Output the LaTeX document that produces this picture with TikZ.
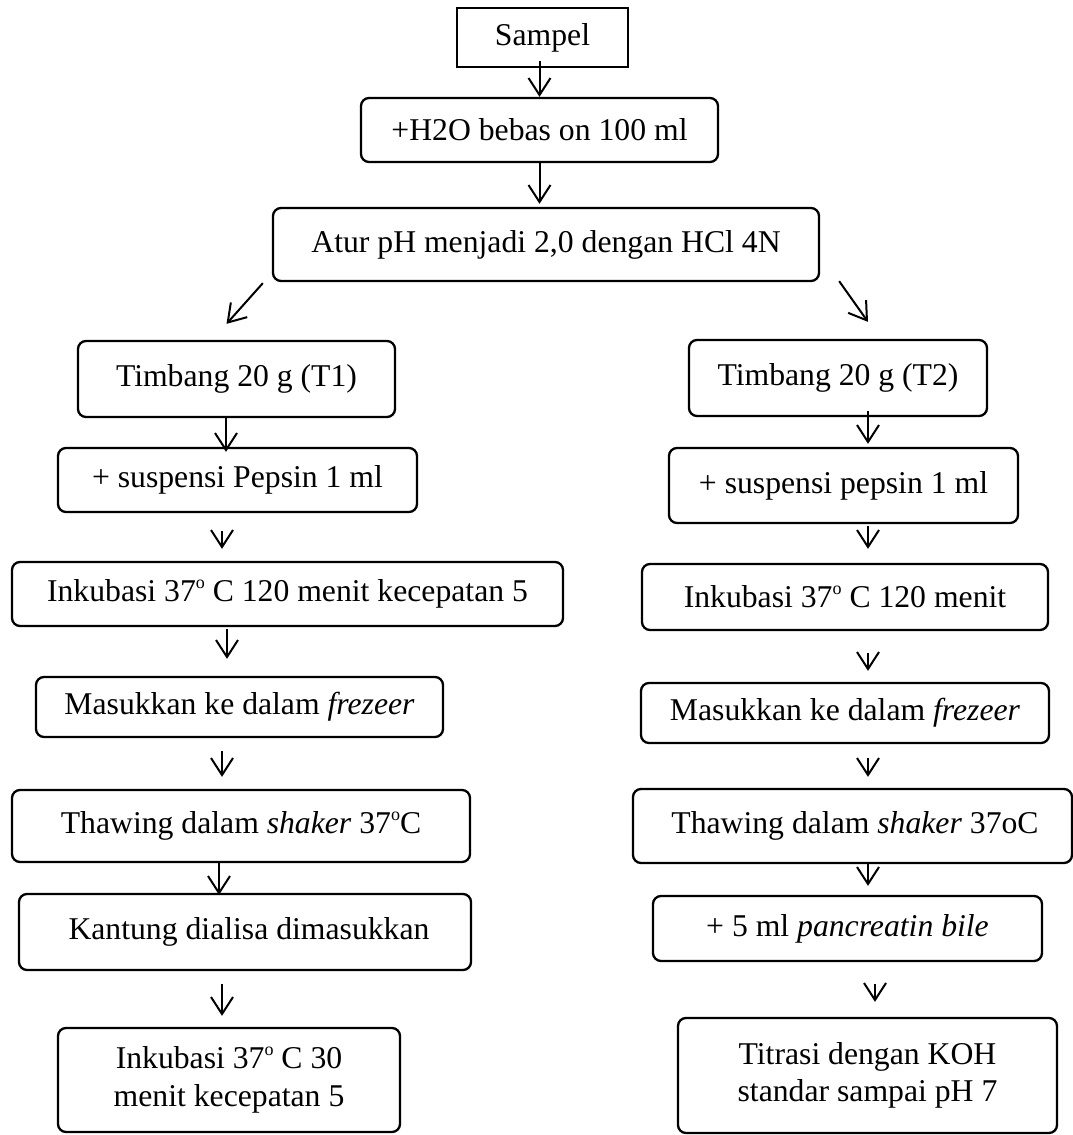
\documentclass[tikz,border=0pt]{standalone}
\usepackage{fontspec}
\setmainfont{Liberation Serif}
\usetikzlibrary{arrows.meta}
\newcommand{\supo}{\raisebox{13.4pt}{\fontsize{18}{18}\selectfont o}}
\begin{document}
\begin{tikzpicture}[x=1pt,y=-1pt,
  box/.style={draw, line width=2.3pt, rounded corners=8pt, inner sep=0pt,
    font=\fontsize{31.7}{37.5}\selectfont},
  sqbox/.style={box, sharp corners},
  arr/.style={line width=2pt, -{Straight Barb[length=17pt,width=22pt]}}]
\useasboundingbox (0,0) rectangle (1073,1135);

% top
\node[sqbox, minimum width=171pt, minimum height=59pt] (sampel) at (542.5,37.5) {Sampel};
\node[box, minimum width=357pt, minimum height=64pt] (h2o) at (539.5,130) {+H2O bebas on 100 ml};
\node[box, minimum width=546pt, minimum height=73pt] (atur) at (546,244.5) {Atur pH menjadi 2,0 dengan HCl 4N};

% left column
\node[box, minimum width=317pt, minimum height=76pt] (t1) at (236.5,379) {Timbang 20 g (T1)\hspace{23pt}};
\node[box, minimum width=359pt, minimum height=64pt] (p1) at (237.5,480) {+ suspensi Pepsin 1 ml};
\node[box, minimum width=551pt, minimum height=64pt] (i1) at (287.5,594) {Inkubasi 37\supo{} C 120 menit kecepatan 5};
\node[box, minimum width=407pt, minimum height=60pt] (m1) at (239.5,707) {Masukkan ke dalam \textit{frezeer}};
\node[box, minimum width=458pt, minimum height=72pt] (th1) at (241,826) {Thawing dalam \textit{shaker} 37\supo C\hspace{15pt}};
\node[box, minimum width=452pt, minimum height=76pt] (k1) at (245,932) {\hspace{8pt}Kantung dialisa dimasukkan};
\node[box, minimum width=342pt, minimum height=104pt, align=center] (f1) at (229,1080) {Inkubasi 37\supo{} C 30\\menit kecepatan 5};

% right column
\node[box, minimum width=298pt, minimum height=76pt] (t2) at (838,378) {Timbang 20 g (T2)};
\node[box, minimum width=349pt, minimum height=75pt] (p2) at (843.5,485.5) {+ suspensi pepsin 1 ml\hspace{9pt}};
\node[box, minimum width=406pt, minimum height=66pt] (i2) at (845,597) {Inkubasi 37\supo{} C 120 menit};
\node[box, minimum width=408pt, minimum height=60pt] (m2) at (845,713) {Masukkan ke dalam \textit{frezeer}};
\node[box, minimum width=439pt, minimum height=74pt] (th2) at (852.5,826) {\hspace{5pt}Thawing dalam \textit{shaker} 37oC};
\node[box, minimum width=389pt, minimum height=65pt] (pc) at (847.5,928.5) {+ 5 ml \textit{pancreatin bile}};
\node[box, minimum width=379pt, minimum height=115pt, align=center] (ti) at (867.5,1075.5) {Titrasi dengan KOH\\standar sampai pH 7};

% arrows top
\draw[arr] ([xshift=-3pt,yshift=7pt]sampel.south) -- (h2o.north);
\draw[arr] (h2o.south) -- ([xshift=-6.5pt,yshift=3pt]atur.north);
\draw[arr] ([xshift=-9pt,yshift=-1pt]atur.south west) -- ([xshift=-10pt,yshift=16pt]t1.north);
\draw[arr] ([xshift=19pt,yshift=1pt]atur.south east) -- ([xshift=30pt,yshift=17pt]t2.north);

% arrows left
\draw[arr] ([xshift=-10.5pt]t1.south) -- ([xshift=-11.5pt,yshift=-5pt]p1.north);
\draw[arr] ([xshift=-15.5pt,yshift=-18pt]p1.south) -- ([xshift=-65.5pt,yshift=12pt]i1.north);
\draw[arr] ([xshift=-60.5pt,yshift=-2pt]i1.south) -- ([xshift=-12.5pt,yshift=17pt]m1.north);
\draw[arr] ([xshift=-17.5pt,yshift=-13pt]m1.south) -- ([xshift=-19pt,yshift=12pt]th1.north);
\draw[arr] ([xshift=-22pt]th1.south) -- ([xshift=-26pt,yshift=-2pt]k1.north);
\draw[arr] ([xshift=-23pt,yshift=-13pt]k1.south) -- ([xshift=-7pt,yshift=11pt]f1.north);

% arrows right
\draw[arr] ([xshift=30pt,yshift=6pt]t2.south) -- ([xshift=24.5pt,yshift=3pt]p2.north);
\draw[arr] ([xshift=24.5pt,yshift=-2pt]p2.south) -- ([xshift=23pt,yshift=14pt]i2.north);
\draw[arr] ([xshift=23pt,yshift=-22pt]i2.south) -- ([xshift=23pt,yshift=11pt]m2.north);
\draw[arr] ([xshift=23pt,yshift=-14pt]m2.south) -- ([xshift=15.5pt,yshift=11pt]th2.north);
\draw[arr] ([xshift=15.5pt]th2.south) -- ([xshift=20.5pt,yshift=9pt]pc.north);
\draw[arr] ([xshift=27.5pt,yshift=-22pt]pc.south) -- ([xshift=7.5pt,yshift=15pt]ti.north);
\end{tikzpicture}
\end{document}
